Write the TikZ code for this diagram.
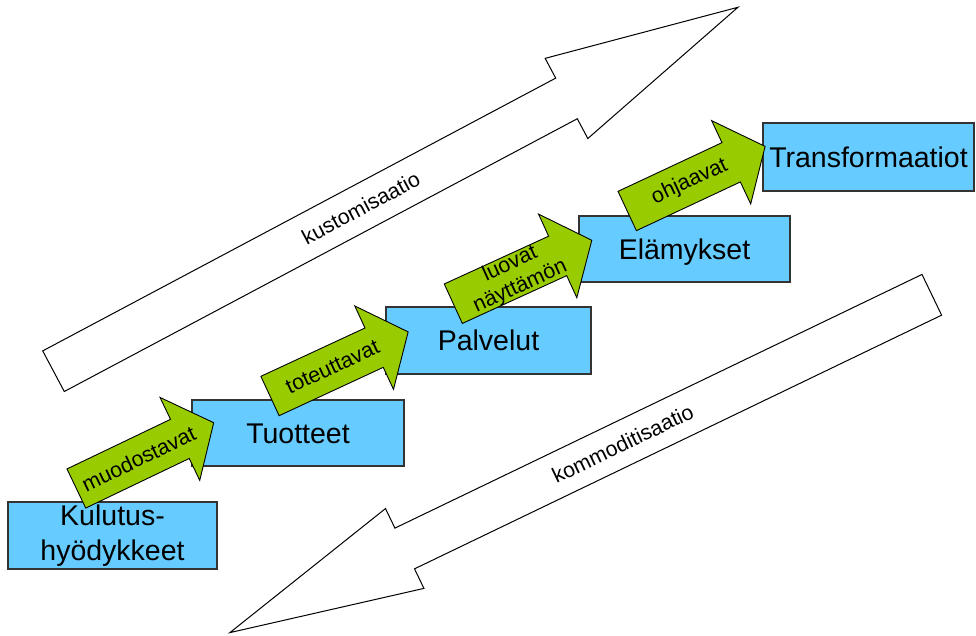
\documentclass[tikz,border=0pt]{standalone}
\usepackage{fontspec}
\setmainfont{Liberation Sans}
\definecolor{boxblue}{HTML}{66CCFF}
\definecolor{stepgreen}{HTML}{99CC00}
\tikzset{
  stagebox/.style={draw=black!80, line width=1.3pt, fill=boxblue, inner sep=0pt,
    font=\fontsize{28.5}{34.3}\selectfont, align=center},
  oneline/.style={text height=20.5pt, text depth=0pt},
  stepflow/.style={draw=black, line width=0.9pt, fill=stepgreen, line join=miter},
  steplabel/.style={inner sep=0pt, font=\fontsize{21.5}{24.4}\selectfont, align=center},
  trendflow/.style={draw=black, line width=1pt, fill=white, line join=miter},
  trendlabel/.style={inner sep=0pt, font=\fontsize{21.3}{24}\selectfont},
}
% green step arrow, tail centred at the origin, pointing along +x
\newcommand\stepshape{%
  \draw[stepflow] (0,-21.7) -- (114.8,-21.7) -- (114.8,-46) -- (152.3,0)
    -- (114.8,46) -- (114.8,21.7) -- (0,21.7) -- cycle;}
\begin{document}
\begin{tikzpicture}[x=1pt, y=-1pt]
\useasboundingbox (0,0) rectangle (976,636);

% long trend arrows
\begin{scope}[shift={(53.5,371.2)}, rotate=28]
  \draw[trendflow] (0,-23) -- (581,-23) -- (581,-45.4) -- (775.2,0)
    -- (581,45.4) -- (581,23) -- (0,23) -- cycle;
  \node[trendlabel, rotate=28] (kust) at (348,0) {kustomisaatio};
\end{scope}
\begin{scope}[shift={(931.8,294.8)}, rotate=205.7]
  \draw[trendflow] (0,-22.6) -- (585,-22.6) -- (585,-44.3) -- (779,0)
    -- (585,44.3) -- (585,22.6) -- (0,22.6) -- cycle;
  \node[trendlabel, rotate=25.7] (komm) at (343,0) {kommoditisaatio};
\end{scope}

% stages
\node[stagebox, minimum width=209pt, minimum height=67pt] (kulutus) at (112.5,535.5) {Kulutus-\\hyödykkeet};
\node[stagebox, oneline, minimum width=212pt, minimum height=66pt] (tuotteet) at (298,433) {Tuotteet};
\node[stagebox, oneline, minimum width=205pt, minimum height=67pt] (palvelut) at (488.5,340.5) {Palvelut};
\node[stagebox, oneline, minimum width=211pt, minimum height=66pt] (elamykset) at (684.5,249) {Elämykset};
\node[stagebox, oneline, minimum width=211pt, minimum height=68pt] (transf) at (868.5,157) {Transformaatiot};

% step arrows between stages
\begin{scope}[shift={(76.35,488.5)}, rotate=25.6]
  \stepshape
  \node[steplabel, rotate=25.6] (muod) at (69,0) {muodostavat};
\end{scope}
\begin{scope}[shift={(270,396)}, rotate=24.9]
  \stepshape
  \node[steplabel, rotate=24.9] (tote) at (69,0) {toteuttavat};
\end{scope}
\begin{scope}[shift={(453.3,303.7)}, rotate=24.6]
  \stepshape
  \node[steplabel, rotate=24.6] (luov) at (68,0) {luovat\\näyttämön};
\end{scope}
\begin{scope}[shift={(627.2,211)}, rotate=25.1]
  \stepshape
  \node[steplabel, rotate=25.1] (ohja) at (69,0) {ohjaavat};
\end{scope}
\end{tikzpicture}
\end{document}
